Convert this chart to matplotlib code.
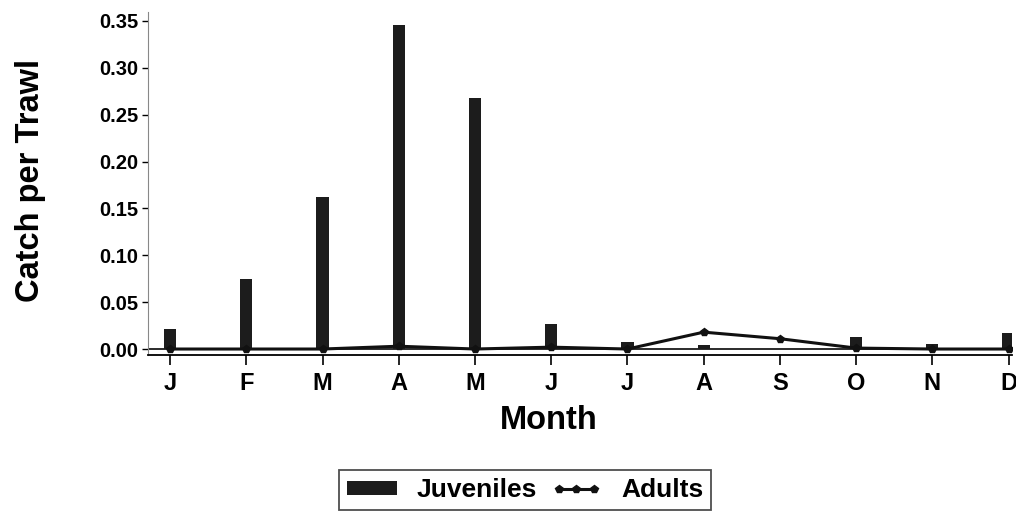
import numpy as np
import matplotlib.pyplot as plt
from matplotlib.lines import Line2D
from matplotlib.patches import Patch

plt.rcParams['font.family'] = ['Liberation Sans', 'DejaVu Sans']
plt.rcParams['font.weight'] = 'bold'

# data
months = ['J', 'F', 'M', 'A', 'M', 'J', 'J', 'A', 'S', 'O', 'N', 'D']
juveniles = [0.021, 0.075, 0.162, 0.346, 0.268, 0.027, 0.007, 0.004, 0.0, 0.013, 0.005, 0.017]
adults = [0.0, 0.0, 0.0, 0.003, 0.0, 0.002, 0.0, 0.018, 0.011, 0.001, 0.0, 0.0]
y_ticks = [0.00, 0.05, 0.10, 0.15, 0.20, 0.25, 0.30, 0.35]

x = np.arange(len(months))

fig = plt.figure(figsize=(10.16, 5.12), dpi=100)
ax = fig.add_axes([0.1457, 0.3066, 0.850, 0.670])

# juveniles as narrow bars, zero line underneath
ax.axhline(0, color='#1a1a1a', lw=1.3, zorder=1)
ax.bar(x, juveniles, width=0.16, color='#1c1c1c', zorder=2)

# adults as a line with markers
ax.plot(x, adults, color='#111111', lw=2.2, marker='p', ms=6, zorder=3)

ax.set_xlim(-0.29, 11.04)
ax.set_ylim(-0.0064, 0.3596)
ax.set_xticks(x)
ax.set_xticklabels(months, fontsize=17, fontweight='bold')
ax.set_yticks(y_ticks)
ax.set_yticklabels(['%.2f' % t for t in y_ticks], fontsize=14.5, fontweight='bold')
ax.tick_params(axis='x', length=7, width=1.2, pad=5)
ax.tick_params(axis='y', length=4, width=1.0, pad=3)

ax.spines['top'].set_visible(False)
ax.spines['right'].set_visible(False)
ax.spines['left'].set_color('#888888')
ax.spines['bottom'].set_linewidth(1.3)

ax.set_xlabel('Month', fontsize=23.5, fontweight='bold')
ax.set_ylabel('Catch per Trawl', fontsize=23.5, fontweight='bold')
ax.xaxis.set_label_coords(0.464, -0.146)
ax.yaxis.set_label_coords(-0.118, 0.51)

# legend below the plot
handles = [Patch(facecolor='#1c1c1c', edgecolor='none'),
           Line2D([], [], color='#111111', lw=2.2, marker='p', ms=6)]
leg = fig.legend(handles, ['Juveniles', 'Adults'], loc='center', ncol=2,
                 bbox_to_anchor=(525 / 1016, 1 - 490 / 512), fontsize=19,
                 frameon=True, fancybox=False, edgecolor='#222222',
                 handlelength=1.9, handleheight=0.45, columnspacing=0.55,
                 handletextpad=0.75, numpoints=3, borderpad=0.3)
leg.get_frame().set_linewidth(1.3)
for t in leg.get_texts():
    t.set_fontweight('bold')

plt.savefig('out.png', dpi=100)
